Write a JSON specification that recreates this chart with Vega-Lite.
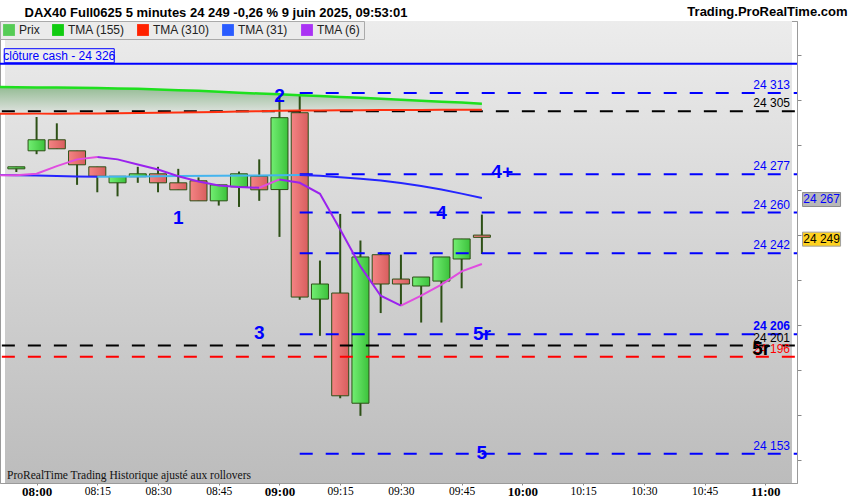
{
  "$schema": "https://vega.github.io/schema/vega-lite/v6.json",
  "width": 797,
  "height": 462,
  "autosize": {"type": "none"},
  "padding": {"left": 0, "top": 21, "right": 53, "bottom": 17},
  "background": "#ffffff",
  "datasets": {
    "one": [{"k": 1}],
    "candles": [
      {"m": 475, "o": 24279.4, "h": 24280.3, "l": 24278.0, "c": 24280.3},
      {"m": 480, "o": 24287.4, "h": 24302.4, "l": 24285.9, "c": 24292.3},
      {"m": 485, "o": 24292.3, "h": 24299.6, "l": 24288.3, "c": 24288.3},
      {"m": 490, "o": 24287.4, "h": 24287.4, "l": 24272.3, "c": 24281.2},
      {"m": 495, "o": 24280.3, "h": 24280.3, "l": 24269.0, "c": 24276.1},
      {"m": 500, "o": 24273.2, "h": 24276.1, "l": 24267.2, "c": 24276.1},
      {"m": 505, "o": 24275.9, "h": 24280.3, "l": 24273.2, "c": 24277.2},
      {"m": 510, "o": 24277.2, "h": 24280.3, "l": 24269.0, "c": 24273.2},
      {"m": 515, "o": 24273.2, "h": 24279.4, "l": 24270.1, "c": 24270.1},
      {"m": 520, "o": 24274.1, "h": 24275.6, "l": 24265.2, "c": 24265.2},
      {"m": 525, "o": 24265.2, "h": 24272.3, "l": 24263.1, "c": 24272.3},
      {"m": 530, "o": 24271.4, "h": 24278.2, "l": 24262.5, "c": 24277.2},
      {"m": 535, "o": 24276.1, "h": 24283.6, "l": 24265.2, "c": 24270.1},
      {"m": 540, "o": 24270.2, "h": 24312.4, "l": 24249.2, "c": 24302.1},
      {"m": 545, "o": 24304.3, "h": 24312.4, "l": 24221.3, "c": 24222.5},
      {"m": 550, "o": 24221.6, "h": 24238.7, "l": 24205.3, "c": 24228.3},
      {"m": 555, "o": 24224.3, "h": 24259.4, "l": 24177.6, "c": 24178.7},
      {"m": 560, "o": 24175.4, "h": 24247.6, "l": 24169.8, "c": 24240.3},
      {"m": 565, "o": 24241.3, "h": 24242.4, "l": 24215.4, "c": 24228.3},
      {"m": 570, "o": 24230.5, "h": 24241.3, "l": 24218.7, "c": 24228.3},
      {"m": 575, "o": 24227.4, "h": 24231.4, "l": 24211.2, "c": 24231.4},
      {"m": 580, "o": 24229.6, "h": 24240.3, "l": 24211.2, "c": 24240.3},
      {"m": 585, "o": 24239.4, "h": 24248.3, "l": 24226.4, "c": 24248.3},
      {"m": 590, "o": 24250.0, "h": 24259.1, "l": 24241.6, "c": 24249.0}
    ],
    "ma": [
      {"m": 470, "m155": 24315.7, "m310": 24303.8},
      {"m": 475, "m155": 24315.6, "m310": 24303.8},
      {"m": 480, "m155": 24315.5, "m310": 24303.9},
      {"m": 485, "m155": 24315.5, "m310": 24303.9},
      {"m": 490, "m155": 24315.4, "m310": 24304.0},
      {"m": 495, "m155": 24315.3, "m310": 24304.0},
      {"m": 500, "m155": 24315.1, "m310": 24304.1},
      {"m": 505, "m155": 24314.9, "m310": 24304.2},
      {"m": 510, "m155": 24314.6, "m310": 24304.3},
      {"m": 515, "m155": 24314.3, "m310": 24304.4},
      {"m": 520, "m155": 24314.0, "m310": 24304.5},
      {"m": 525, "m155": 24313.6, "m310": 24304.6},
      {"m": 530, "m155": 24313.2, "m310": 24304.8},
      {"m": 535, "m155": 24312.8, "m310": 24305.0},
      {"m": 540, "m155": 24312.5, "m310": 24305.2},
      {"m": 545, "m155": 24312.1, "m310": 24305.3},
      {"m": 550, "m155": 24311.7, "m310": 24305.3},
      {"m": 555, "m155": 24311.3, "m310": 24305.4},
      {"m": 560, "m155": 24310.9, "m310": 24305.4},
      {"m": 565, "m155": 24310.5, "m310": 24305.5},
      {"m": 570, "m155": 24310.1, "m310": 24305.5},
      {"m": 575, "m155": 24309.6, "m310": 24305.5},
      {"m": 580, "m155": 24309.2, "m310": 24305.6},
      {"m": 585, "m155": 24308.8, "m310": 24305.6},
      {"m": 590, "m155": 24308.3, "m310": 24305.6}
    ],
    "seg": [
      {"s": "31a", "k": "31 baisse", "m": 470, "v": 24276.7},
      {"s": "31a", "k": "31 baisse", "m": 475, "v": 24276.6},
      {"s": "31a", "k": "31 baisse", "m": 480, "v": 24276.4},
      {"s": "31a", "k": "31 baisse", "m": 485, "v": 24276.2},
      {"s": "31a", "k": "31 baisse", "m": 490, "v": 24276.0},
      {"s": "31a", "k": "31 baisse", "m": 495, "v": 24275.9},
      {"s": "31b", "k": "31 hausse", "m": 495, "v": 24275.9},
      {"s": "31b", "k": "31 hausse", "m": 505, "v": 24276.0},
      {"s": "31b", "k": "31 hausse", "m": 515, "v": 24276.2},
      {"s": "31b", "k": "31 hausse", "m": 525, "v": 24276.3},
      {"s": "31b", "k": "31 hausse", "m": 535, "v": 24276.5},
      {"s": "31b", "k": "31 hausse", "m": 545, "v": 24276.7},
      {"s": "31c", "k": "31 baisse", "m": 545, "v": 24276.7},
      {"s": "31c", "k": "31 baisse", "m": 550, "v": 24276.3},
      {"s": "31c", "k": "31 baisse", "m": 555, "v": 24275.7},
      {"s": "31c", "k": "31 baisse", "m": 560, "v": 24275.0},
      {"s": "31c", "k": "31 baisse", "m": 565, "v": 24274.2},
      {"s": "31c", "k": "31 baisse", "m": 570, "v": 24273.1},
      {"s": "31c", "k": "31 baisse", "m": 575, "v": 24271.8},
      {"s": "31c", "k": "31 baisse", "m": 580, "v": 24270.2},
      {"s": "31c", "k": "31 baisse", "m": 585, "v": 24268.4},
      {"s": "31c", "k": "31 baisse", "m": 590, "v": 24266.5},
      {"s": "6a", "k": "6 hausse", "m": 470, "v": 24276.5},
      {"s": "6a", "k": "6 hausse", "m": 475, "v": 24276.6},
      {"s": "6a", "k": "6 hausse", "m": 480, "v": 24277.2},
      {"s": "6a", "k": "6 hausse", "m": 485, "v": 24280.6},
      {"s": "6a", "k": "6 hausse", "m": 490, "v": 24283.6},
      {"s": "6a", "k": "6 hausse", "m": 495, "v": 24284.7},
      {"s": "6b", "k": "6 baisse", "m": 495, "v": 24284.7},
      {"s": "6b", "k": "6 baisse", "m": 500, "v": 24283.6},
      {"s": "6b", "k": "6 baisse", "m": 505, "v": 24281.3},
      {"s": "6b", "k": "6 baisse", "m": 510, "v": 24279.1},
      {"s": "6b", "k": "6 baisse", "m": 515, "v": 24276.1},
      {"s": "6b", "k": "6 baisse", "m": 520, "v": 24273.8},
      {"s": "6b", "k": "6 baisse", "m": 525, "v": 24272.0},
      {"s": "6b", "k": "6 baisse", "m": 530, "v": 24271.3},
      {"s": "6b", "k": "6 baisse", "m": 535, "v": 24271.0},
      {"s": "6c", "k": "6 hausse", "m": 535, "v": 24271.0},
      {"s": "6c", "k": "6 hausse", "m": 540, "v": 24274.7},
      {"s": "6d", "k": "6 baisse", "m": 540, "v": 24274.7},
      {"s": "6d", "k": "6 baisse", "m": 545, "v": 24273.2},
      {"s": "6d", "k": "6 baisse", "m": 550, "v": 24268.3},
      {"s": "6d", "k": "6 baisse", "m": 555, "v": 24252.5},
      {"s": "6d", "k": "6 baisse", "m": 560, "v": 24236.1},
      {"s": "6d", "k": "6 baisse", "m": 565, "v": 24223.1},
      {"s": "6d", "k": "6 baisse", "m": 570, "v": 24218.7},
      {"s": "6e", "k": "6 hausse", "m": 570, "v": 24218.7},
      {"s": "6e", "k": "6 hausse", "m": 575, "v": 24223.1},
      {"s": "6e", "k": "6 hausse", "m": 580, "v": 24228.0},
      {"s": "6e", "k": "6 hausse", "m": 585, "v": 24233.9},
      {"s": "6e", "k": "6 hausse", "m": 590, "v": 24237.2}
    ],
    "levels": [
      {"v": 24313, "lbl": "24 313", "kind": "bleu", "w": "n", "m0": 545, "m1": 670},
      {"v": 24305, "lbl": "24 305", "kind": "noir", "w": "n", "m0": 465, "m1": 670},
      {"v": 24277, "lbl": "24 277", "kind": "bleu", "w": "n", "m0": 545, "m1": 670},
      {"v": 24260, "lbl": "24 260", "kind": "bleu", "w": "n", "m0": 545, "m1": 670},
      {"v": 24242, "lbl": "24 242", "kind": "bleu", "w": "n", "m0": 545, "m1": 670},
      {"v": 24206, "lbl": "24 206", "kind": "bleu", "w": "b", "m0": 545, "m1": 670},
      {"v": 24201, "lbl": "24 201", "kind": "noir", "w": "n", "m0": 465, "m1": 670},
      {"v": 24196, "lbl": "24 196", "kind": "rouge", "w": "n", "m0": 465, "m1": 670},
      {"v": 24153, "lbl": "24 153", "kind": "bleu", "w": "n", "m0": 545, "m1": 670}
    ],
    "waves": [
      {"m": 515, "v": 24257.8, "lbl": "1", "kind": "bleu"},
      {"m": 540, "v": 24311.6, "lbl": "2", "kind": "bleu"},
      {"m": 535, "v": 24206.7, "lbl": "3", "kind": "bleu"},
      {"m": 580, "v": 24260.0, "lbl": "4", "kind": "bleu"},
      {"m": 595, "v": 24278.2, "lbl": "4+", "kind": "bleu"},
      {"m": 590, "v": 24206.2, "lbl": "5r", "kind": "bleu"},
      {"m": 590, "v": 24153.3, "lbl": "5", "kind": "bleu"},
      {"m": 659, "v": 24199.5, "lbl": "5r", "kind": "noir"}
    ],
    "tags": [
      {"v": 24265.8, "lbl": "24 267", "kind": "bleu"},
      {"v": 24248.2, "lbl": "24 249", "kind": "noir"}
    ],
    "leg": [
      {"serie": "Prix"}, {"serie": "TMA (155)"}, {"serie": "TMA (310)"}, {"serie": "TMA (31)"}, {"serie": "TMA (6)"}
    ]
  },
  "layer": [
    {
      "data": {"name": "one"},
      "mark": {"type": "rect", "fill": {"gradient": "linear", "x1": 0, "y1": 0, "x2": 0, "y2": 1, "stops": [{"offset": 0, "color": "#ececec"}, {"offset": 1, "color": "#bcbcbc"}]}},
      "encoding": {
        "x": {"datum": 472.2, "type": "quantitative"},
        "x2": {"datum": 666.6},
        "y": {"datum": 24345, "type": "quantitative"},
        "y2": {"datum": 24140}
      }
    },
    {
      "data": {"name": "ma"},
      "mark": {"type": "area", "clip": true, "fill": {"gradient": "linear", "x1": 0, "y1": 0, "x2": 0, "y2": 1, "stops": [{"offset": 0, "color": "#94bb94"}, {"offset": 1, "color": "#e2e4e2"}]}},
      "encoding": {
        "x": {"field": "m", "type": "quantitative", "scale": {"domain": [472.2, 666.6], "zero": false, "nice": false},
          "axis": {"values": [480, 495, 510, 525, 540, 555, 570, 585, 600, 615, 630, 645, 660],
            "labelExpr": "(floor(datum.value / 60) < 10 ? '0' : '') + floor(datum.value / 60) + ':' + (datum.value % 60 < 10 ? '0' : '') + (datum.value % 60)",
            "grid": false,
            "labelFont": "Liberation Sans Narrow", "labelFontSize": {"expr": "datum.value % 60 === 0 ? 13 : 11.5"},
            "labelFontWeight": {"expr": "datum.value % 60 === 0 ? 'bold' : 'normal'"}, "labelColor": "#000000",
            "tickSize": 2, "tickColor": "#888888", "domainColor": "#9a9a9a", "labelPadding": 0, "labelFlush": false, "labelOverlap": false,
            "title": "DAX40 Full0625 5 minutes 24 249 -0,26 % 9 juin 2025, 09:53:01",
            "titleX": 24, "titleY": -471, "titleAlign": "left", "titleAnchor": "start", "titleBaseline": "middle", "titleAngle": 0,
            "titleFont": "Liberation Sans", "titleFontSize": 13, "titleFontWeight": "bold", "titleColor": "#000000"}},
        "y": {"field": "m155", "type": "quantitative", "scale": {"domain": [24140, 24345], "zero": false, "nice": false},
          "axis": {"orient": "right", "values": [24150, 24160, 24170, 24180, 24190, 24200, 24210, 24220, 24230, 24240, 24250, 24260, 24270, 24280, 24290, 24300, 24310, 24320, 24330, 24340],
            "labelExpr": "datum.value % 20 === 0 ? replace(format(datum.value, ','), ',', ' ') : ''",
            "labelFontSize": {"expr": "datum.value % 100 === 0 ? 13 : 12"},
            "labelFontWeight": {"expr": "datum.value % 100 === 0 ? 'bold' : 'normal'"},
            "labelFont": "Liberation Sans", "labelColor": "#000000", "tickSize": 4, "tickColor": "#888888", "domainColor": "#9a9a9a",
            "grid": false, "labelPadding": 5, "labelFlush": false, "labelOverlap": false,
            "title": "Trading.ProRealTime.com", "titleAngle": 0, "titleAlign": "right", "titleBaseline": "middle",
            "titleX": 50, "titleY": -10, "titleFont": "Liberation Sans", "titleFontSize": 13, "titleFontWeight": "bold", "titleColor": "#000000"}},
        "y2": {"field": "m310"}
      }
    },
    {
      "data": {"name": "candles"},
      "mark": {"type": "rule", "color": "#2d5016", "strokeWidth": 2},
      "encoding": {
        "x": {"field": "m", "type": "quantitative"},
        "y": {"field": "l", "type": "quantitative"},
        "y2": {"field": "h"}
      }
    },
    {
      "data": {"name": "candles"},
      "transform": [{"filter": "datum.c >= datum.o"}],
      "mark": {"type": "bar", "size": 17, "stroke": "#2d5016", "strokeWidth": 1, "orient": "vertical",
        "fill": {"gradient": "linear", "x1": 0, "y1": 0, "x2": 1, "y2": 0, "stops": [{"offset": 0, "color": "#72ee72"}, {"offset": 1, "color": "#3cc23c"}]}},
      "encoding": {
        "x": {"field": "m", "type": "quantitative"},
        "y": {"field": "o", "type": "quantitative"},
        "y2": {"field": "c"}
      }
    },
    {
      "data": {"name": "candles"},
      "transform": [{"filter": "datum.c < datum.o"}],
      "mark": {"type": "bar", "size": 17, "stroke": "#2d5016", "strokeWidth": 1, "orient": "vertical",
        "fill": {"gradient": "linear", "x1": 0, "y1": 0, "x2": 1, "y2": 0, "stops": [{"offset": 0, "color": "#f48484"}, {"offset": 1, "color": "#d85e5e"}]}},
      "encoding": {
        "x": {"field": "m", "type": "quantitative"},
        "y": {"field": "o", "type": "quantitative"},
        "y2": {"field": "c"}
      }
    },
    {
      "data": {"name": "levels"},
      "mark": {"type": "rule", "clip": true, "strokeWidth": 2, "strokeDash": [13, 13]},
      "encoding": {
        "x": {"field": "m0", "type": "quantitative"},
        "x2": {"field": "m1"},
        "y": {"field": "v", "type": "quantitative"},
        "stroke": {"field": "kind", "type": "nominal", "legend": null,
          "scale": {"domain": ["bleu", "noir", "rouge", "31 hausse", "31 baisse", "6 hausse", "6 baisse"], "range": ["#0000ff", "#000000", "#ff0000", "#44b4ee", "#2525ff", "#e04ce0", "#9a22ee"]}}
      }
    },
    {
      "data": {"name": "one"},
      "mark": {"type": "rule", "color": "#0000ff", "strokeWidth": 2},
      "encoding": {"y": {"datum": 24326, "type": "quantitative"}}
    },
    {
      "data": {"name": "ma"},
      "mark": {"type": "line", "clip": true, "color": "#ff3010", "strokeWidth": 2},
      "encoding": {
        "x": {"field": "m", "type": "quantitative"},
        "y": {"field": "m310", "type": "quantitative"}
      }
    },
    {
      "data": {"name": "ma"},
      "mark": {"type": "line", "clip": true, "color": "#1ee01e", "strokeWidth": 2.5},
      "encoding": {
        "x": {"field": "m", "type": "quantitative"},
        "y": {"field": "m155", "type": "quantitative"}
      }
    },
    {
      "data": {"name": "seg"},
      "mark": {"type": "line", "clip": true, "strokeWidth": 2},
      "encoding": {
        "x": {"field": "m", "type": "quantitative"},
        "y": {"field": "v", "type": "quantitative"},
        "detail": {"field": "s", "type": "nominal"},
        "stroke": {"field": "k", "type": "nominal", "legend": null,
          "scale": {"domain": ["bleu", "noir", "rouge", "31 hausse", "31 baisse", "6 hausse", "6 baisse"], "range": ["#0000ff", "#000000", "#ff0000", "#44b4ee", "#2525ff", "#e04ce0", "#9a22ee"]}}
      }
    },
    {
      "data": {"name": "levels"},
      "transform": [{"filter": "datum.w === 'n'"}],
      "mark": {"type": "text", "align": "right", "baseline": "bottom", "dx": -2, "dy": -1, "font": "Liberation Sans", "fontSize": 12},
      "encoding": {
        "x": {"datum": 666.6, "type": "quantitative"},
        "y": {"field": "v", "type": "quantitative"},
        "text": {"field": "lbl", "type": "nominal"},
        "color": {"field": "kind", "type": "nominal", "legend": null, "scale": {"domain": ["bleu", "noir", "rouge"], "range": ["#0000ff", "#000000", "#ff0000"]}}
      }
    },
    {
      "data": {"name": "levels"},
      "transform": [{"filter": "datum.w === 'b'"}],
      "mark": {"type": "text", "align": "right", "baseline": "bottom", "dx": -2, "dy": -1, "font": "Liberation Sans", "fontSize": 12, "fontWeight": "bold"},
      "encoding": {
        "x": {"datum": 666.6, "type": "quantitative"},
        "y": {"field": "v", "type": "quantitative"},
        "text": {"field": "lbl", "type": "nominal"},
        "color": {"field": "kind", "type": "nominal", "legend": null, "scale": {"domain": ["bleu", "noir", "rouge"], "range": ["#0000ff", "#000000", "#ff0000"]}}
      }
    },
    {
      "data": {"name": "waves"},
      "mark": {"type": "text", "align": "center", "baseline": "middle", "font": "Liberation Sans", "fontSize": 19, "fontWeight": "bold"},
      "encoding": {
        "x": {"field": "m", "type": "quantitative"},
        "y": {"field": "v", "type": "quantitative"},
        "text": {"field": "lbl", "type": "nominal"},
        "color": {"field": "kind", "type": "nominal", "legend": null, "scale": {"domain": ["bleu", "noir", "rouge"], "range": ["#0000ff", "#000000", "#ff0000"]}}
      }
    },
    {
      "data": {"name": "one"},
      "mark": {"type": "rect", "width": 110, "height": 14, "fill": "#ededed", "stroke": "#0000ff", "strokeWidth": 1},
      "encoding": {
        "x": {"datum": 485.6, "type": "quantitative"},
        "y": {"datum": 24329.6, "type": "quantitative"}
      }
    },
    {
      "data": {"name": "one"},
      "mark": {"type": "text", "align": "center", "baseline": "middle", "font": "Liberation Sans", "fontSize": 12, "color": "#0000ff", "text": "clôture cash -  24 326"},
      "encoding": {
        "x": {"datum": 485.6, "type": "quantitative"},
        "y": {"datum": 24329.6, "type": "quantitative"}
      }
    },
    {
      "data": {"name": "tags"},
      "transform": [{"filter": "datum.kind === 'bleu'"}],
      "mark": {"type": "rect", "width": 38, "height": 14, "fill": "#b8b8b8", "stroke": "#8c8c8c", "strokeWidth": 1},
      "encoding": {
        "x": {"datum": 673.9, "type": "quantitative"},
        "y": {"field": "v", "type": "quantitative"}
      }
    },
    {
      "data": {"name": "tags"},
      "transform": [{"filter": "datum.kind === 'noir'"}],
      "mark": {"type": "rect", "width": 38, "height": 14, "fill": "#ffd21e", "stroke": "#a0a0a0", "strokeWidth": 1},
      "encoding": {
        "x": {"datum": 673.9, "type": "quantitative"},
        "y": {"field": "v", "type": "quantitative"}
      }
    },
    {
      "data": {"name": "tags"},
      "mark": {"type": "text", "align": "center", "baseline": "middle", "font": "Liberation Sans", "fontSize": 12},
      "encoding": {
        "x": {"datum": 673.9, "type": "quantitative"},
        "y": {"field": "v", "type": "quantitative"},
        "text": {"field": "lbl", "type": "nominal"},
        "color": {"field": "kind", "type": "nominal", "legend": null, "scale": {"domain": ["bleu", "noir", "rouge"], "range": ["#0000ff", "#000000", "#ff0000"]}}
      }
    },
    {
      "data": {"name": "one"},
      "mark": {"type": "text", "align": "left", "baseline": "middle", "font": "Liberation Sans Narrow", "fontSize": 11.5, "color": "#111111", "text": "ProRealTime Trading  Historique ajusté aux rollovers"},
      "encoding": {
        "x": {"datum": 472.7, "type": "quantitative"},
        "y": {"datum": 24143.1, "type": "quantitative"}
      }
    },
    {
      "data": {"name": "leg"},
      "mark": {"type": "point", "filled": true, "opacity": 0},
      "encoding": {
        "fill": {"field": "serie", "type": "nominal",
          "scale": {"domain": ["Prix", "TMA (155)", "TMA (310)", "TMA (31)", "TMA (6)"],
            "range": ["#55cc55", "#11cc11", "#ff2200", "#2a5cff", "#aa33f4"]},
          "legend": {"orient": "none", "legendX": 0, "legendY": 0, "direction": "horizontal", "title": null,
            "symbolType": "square", "symbolSize": 140, "symbolStrokeWidth": 0, "symbolOpacity": 1,
            "labelFont": "Liberation Sans", "labelFontSize": 12, "labelColor": "#222222", "labelOffset": 4,
            "fillColor": "#ebebeb", "strokeColor": "#aaaaaa", "padding": 3, "columnPadding": 12}}
      }
    }
  ],
  "config": {
    "view": {"stroke": "#9a9a9a"}
  }
}
